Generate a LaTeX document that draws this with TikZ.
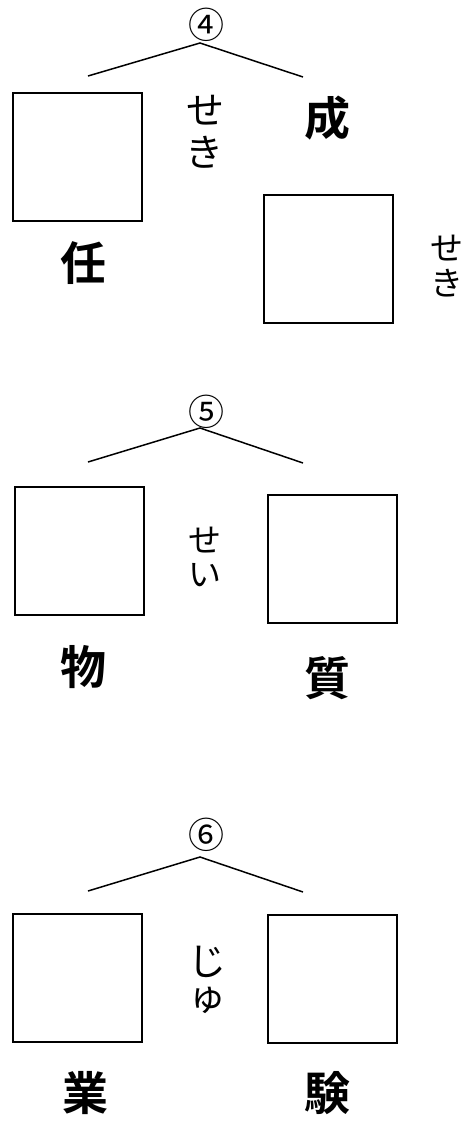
\documentclass[tikz,border=0pt]{standalone}
\usepackage{fontspec}
\newfontfamily\jp{Noto Sans CJK JP}
\newfontfamily\jpb{Noto Sans CJK JP Bold}
\begin{document}
\begin{tikzpicture}[x=1pt,y=-1pt,
  blank/.style={draw,line width=1.5pt,minimum width=129pt,minimum height=128pt,inner sep=0pt,anchor=north west},
  kanji/.style={inner sep=0pt,font=\jpb\fontsize{46pt}{46pt}\selectfont},
  kana/.style={inner sep=0pt,font=\jp\fontsize{38pt}{38pt}\selectfont},
  kanas/.style={inner sep=0pt,font=\jp\fontsize{33pt}{33pt}\selectfont},
  num/.style={inner sep=0pt,font=\jp\fontsize{36pt}{36pt}\selectfont},
  branch/.style={line width=1.5pt}]
\useasboundingbox (0,0) rectangle (473,1128);
% section 4
\node[num] (n4) at (206,25) {④};
\coordinate (a4) at (200,43);
\coordinate (l4) at (88,76);
\coordinate (r4) at (303,77);
\draw[branch] (l4) -- (a4) -- (r4);
\node[blank] (b4l) at (12,92) {};
\node[blank] (b4r) at (263,194) {};
\node[kana] (k4a) at (205,110) {せ};
\node[kana] (k4b) at (204,152) {き};
\node[kanji] (c4a) at (327,118) {成};
\node[kanji] (c4b) at (83,263) {任};
\node[kanas] (k4c) at (447,248) {せ};
\node[kanas] (k4d) at (447,283) {き};
% section 5
\node[num] (n5) at (206,412) {⑤};
\coordinate (a5) at (200,428);
\coordinate (l5) at (88,462);
\coordinate (r5) at (303,463);
\draw[branch] (l5) -- (a5) -- (r5);
\node[blank] (b5l) at (14,486) {};
\node[blank] (b5r) at (267,494) {};
\node[kanas] (k5a) at (205,540) {せ};
\node[kanas] (k5b) at (205,575) {い};
\node[kanji] (c5a) at (83,667) {物};
\node[kanji] (c5b) at (327,678) {質};
% section 6
\node[num] (n6) at (206,835) {⑥};
\coordinate (a6) at (200,857);
\coordinate (l6) at (88,891);
\coordinate (r6) at (303,892);
\draw[branch] (l6) -- (a6) -- (r6);
\node[blank] (b6l) at (12,913) {};
\node[blank] (b6r) at (267,914) {};
\node[kana] (k6a) at (207,962) {じ};
\node[kana] (k6b) at (207,1000) {ゅ};
\node[kanji] (c6a) at (85,1093) {業};
\node[kanji] (c6b) at (327,1093) {験};
\end{tikzpicture}
\end{document}
